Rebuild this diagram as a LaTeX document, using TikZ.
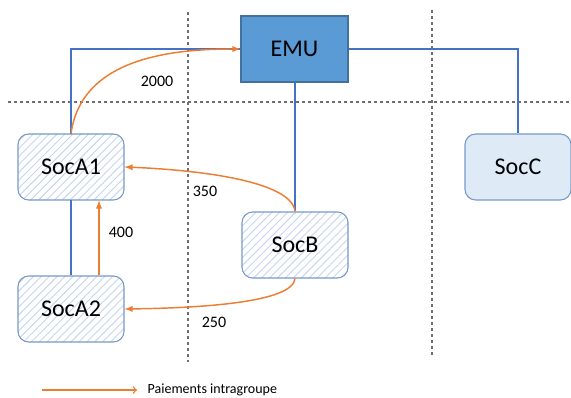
\documentclass[tikz,border=0pt]{standalone}
\usepackage{fontspec}
\setmainfont{Carlito}
\usepackage{xcolor}
\usetikzlibrary{arrows}
\usetikzlibrary{patterns.meta, math, calc}
\definecolor{myorange}{RGB}{237,125,49}
\definecolor{myblue}{RGB}{68,114,196}
\definecolor{emublue}{RGB}{91,155,213}
\definecolor{emuline}{RGB}{65,113,156}
\definecolor{socline}{RGB}{120,152,200}
\definecolor{hatchblue}{RGB}{196,214,238}
\definecolor{socfill}{RGB}{222,235,247}
\definecolor{dashgray}{RGB}{110,110,110}

\tikzset{
socbox/.style={draw=socline, line width=0.8pt, rounded corners=8pt, minimum width=\W*0.75pt, minimum height=\H*0.75pt, font=\fontsize{18}{20}\selectfont},
hatched/.style={socbox, pattern={Lines[angle=45,distance=4.2pt,line width=0.7pt]}, pattern color=hatchblue},
link/.style={color=myblue, line width=1.1pt},
pay/.style={-latex, color=myorange, line width=1.1pt},
sep/.style={color=dashgray, line width=0.9pt, dash pattern=on 2.5pt off 2pt},
amount/.style={font=\fontsize{12}{14}\selectfont}
}

\begin{document}
\begin{tikzpicture}[x=0.75pt,y=0.75pt]
\tikzmath{
\W=106;
\H=66;
\xA=71;
\xB=295;
\xC=518;
\yTop=348;
\yMid=230;
\yLow=152;
\yBot=88;
}
\useasboundingbox (0,0) rectangle (571,397);

% dotted separators
\draw[sep] (8,295) -- (571,295);
\draw[sep] (188,385) -- (188,35);
\draw[sep] (432,387) -- (432,42);

% companies
\node[draw=emuline, fill=emublue, line width=0.8pt, minimum width=107*0.75pt, minimum height=\H*0.75pt, font=\fontsize{18}{20}\selectfont] (EMU) at (294.5,\yTop) {EMU};
\node[hatched] (SocA1) at (\xA,\yMid) {SocA1};
\node[hatched] (SocA2) at (\xA,\yBot) {SocA2};
\node[hatched] (SocB) at (\xB,\yLow) {SocB};
\node[socbox, fill=socfill] (SocC) at (\xC,\yMid) {SocC};

% group links
\draw[link] (SocA1.north) |- (EMU.west);
\draw[link] (EMU.east) -| (SocC.north);
\draw[link] (EMU.south -| SocB.north) -- (SocB.north);
\draw[link] (SocA1.south) -- (SocA2.north);

% payments
\coordinate (A2top) at ($(SocA2.north)+(28,0)$);
\coordinate (A1bot) at ($(SocA1.south)+(28,0)$);
\draw[pay] (SocA1.north) to[out=82,in=180] (EMU.west);
\draw[pay] (SocB.north) .. controls ($(SocB.north)+(-3,30)$) and ($(SocA1.east)+(76,-3)$) .. (SocA1.east);
\draw[pay] (A2top) -- (A1bot);
\draw[pay] (SocB.south) .. controls ($(SocB.south)+(-2,-24)$) and ($(SocA2.east)+(76,1)$) .. (SocA2.east);
\node[amount] (m2000) at (157,316) {2000};
\node[amount] (m350) at (205,206) {350};
\node[amount] (m400) at (121,165) {400};
\node[amount] (m250) at (214,75) {250};

% legend
\coordinate (L1) at (42,7);
\coordinate (L2) at (137,7);
\draw[->, color=myorange, line width=1.1pt] (L1) -- (L2);
\node[right, font=\fontsize{10.5}{12}\selectfont] (leg) at (143,7) {Paiements intragroupe};
\end{tikzpicture}
\end{document}
